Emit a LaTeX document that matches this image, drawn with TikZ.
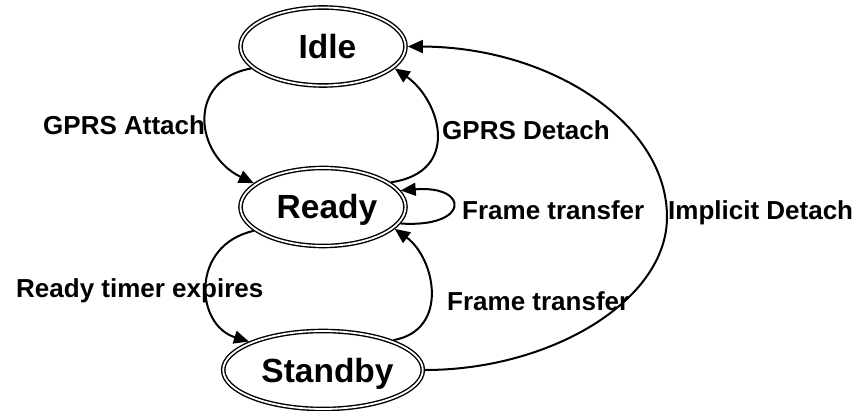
\documentclass[tikz,border=0pt]{standalone}
\usepackage{fontspec}
\setmainfont{Liberation Sans}
\usetikzlibrary{arrows.meta,shapes.geometric}
\begin{document}
\begin{tikzpicture}[x=1pt,y=1pt,
  state/.style={ellipse,draw,double,line width=1.4pt,double distance=1.8pt,
    minimum width=165pt,minimum height=78pt,inner sep=0pt,outer sep=2.3pt,
    font=\fontsize{33.5}{36}\selectfont\bfseries,text height=24pt,text depth=0pt},
  lab/.style={font=\fontsize{26}{30}\selectfont\bfseries,inner sep=0pt,anchor=base west},
  conn/.style={line width=2pt,-{Triangle[length=15pt,width=13pt]}}]
\useasboundingbox (0,0) rectangle (867,410);
\node[state] (idle) at (323,363.5) {\hspace*{9pt}Idle};
\node[state] (ready) at (323,203) {\hspace*{8pt}Ready};
\node[state] (standby) at (323,40) {\hspace*{9pt}Standby};
\coordinate (far) at (667,193);
% connectors
\draw[conn] (idle.197) .. controls (186,330) and (195,255) .. (ready.161);
\draw[conn] (ready.199) .. controls (190,165) and (195,85) .. (standby.159);
\draw[conn] (ready.20) .. controls (462,238) and (440,310) .. (idle.343);
\draw[conn] (ready.348) .. controls (470,182) and (470,225) .. (ready.12);
\draw[conn] (standby.23) .. controls (450,80) and (435,152) .. (ready.343);
\draw[conn] (standby.east) .. controls (550,40) and (667,109) .. (far)
  .. controls (667,287) and (550,363) .. (idle.east);
% labels
\node[lab] (l1) at (43,275) {GPRS Attach};
\node[lab] (l2) at (16,113) {Ready timer expires};
\node[lab] (l3) at (442,270) {GPRS Detach};
\node[lab] (l4) at (462,190) {Frame transfer};
\node[lab] (l5) at (447,100) {Frame transfer};
\node[lab] (l6) at (668,190) {Implicit Detach};
\end{tikzpicture}
\end{document}
